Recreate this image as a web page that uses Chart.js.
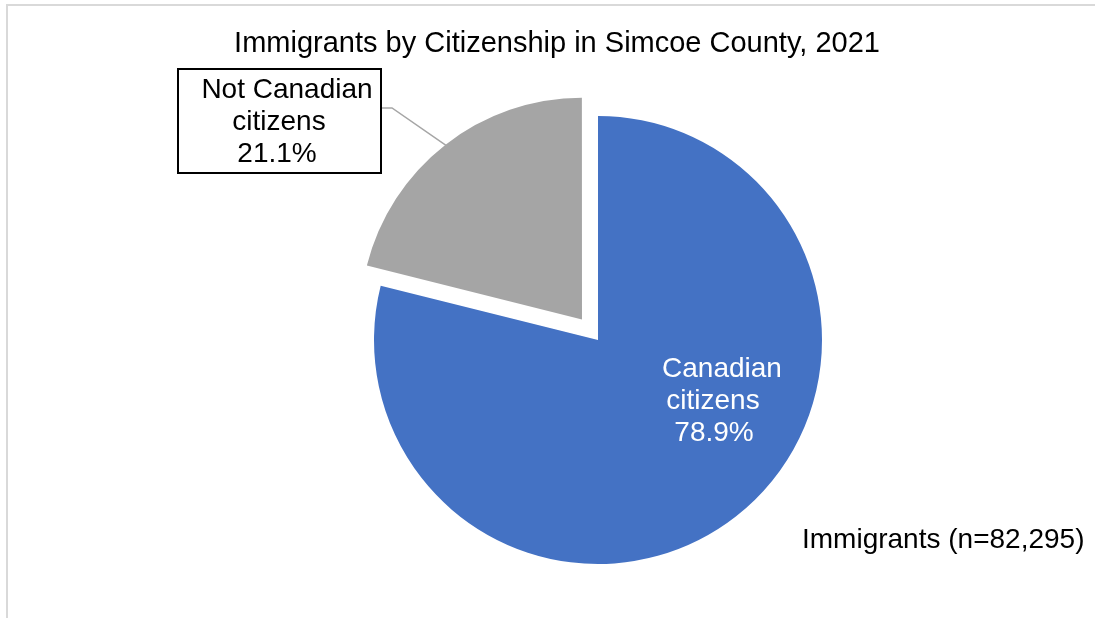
<!DOCTYPE html>
<html>
<head>
<meta charset="utf-8">
<title>Immigrants by Citizenship in Simcoe County, 2021</title>
<script src="https://cdn.jsdelivr.net/npm/chart.js@4"></script>
<style>
  html, body { margin: 0; padding: 0; background: #fff; }
  #wrap { position: relative; width: 1095px; height: 618px; }
</style>
</head>
<body>
<div id="wrap"><canvas id="citizenship-chart" width="1095" height="618"></canvas></div>
<script>
const chartTitle = 'Immigrants by Citizenship in Simcoe County, 2021';
const categories = ['Canadian citizens', 'Not Canadian citizens'];
const shares = [78.9, 21.1];
const totalLabel = 'Immigrants (n=82,295)';

const FONT = 'Liberation Sans, Arial, sans-serif';

// frame, title and slice labels drawn on top of the pie
const annotations = {
    id: 'annotations',
    afterDatasetsUpdate(chart) {
        // the pulled-out slice is drawn a little smaller than the main one
        const grey = chart.getDatasetMeta(0).data[1];
        grey.outerRadius -= 3;
    },
    afterDraw(chart) {
        const ctx = chart.ctx;
        const meta = chart.getDatasetMeta(0);
        ctx.save();

        // light outer frame (top and left edges only)
        ctx.strokeStyle = '#d9d9d9';
        ctx.lineWidth = 2;
        ctx.beginPath();
        ctx.moveTo(7, 618);
        ctx.lineTo(7, 5);
        ctx.lineTo(1095, 5);
        ctx.stroke();

        ctx.fillStyle = '#000';
        ctx.textAlign = 'center';
        ctx.textBaseline = 'alphabetic';
        ctx.font = '29px ' + FONT;
        ctx.fillText(chartTitle, 557, 52);

        // exploded slice: leader line to its mid-angle on the rim
        const grey = meta.data[1];
        const mid = (grey.startAngle + grey.endAngle) / 2;
        const shift = (grey.options.offset || 0) / 4;
        const ex = grey.x + Math.cos(mid) * (shift + grey.outerRadius);
        const ey = grey.y + Math.sin(mid) * (shift + grey.outerRadius);
        ctx.strokeStyle = '#a6a6a6';
        ctx.lineWidth = 1.5;
        ctx.beginPath();
        ctx.moveTo(381, 108);
        ctx.lineTo(392, 108);
        ctx.lineTo(ex, ey);
        ctx.stroke();

        // boxed label
        ctx.fillStyle = '#fff';
        ctx.fillRect(178, 69, 203, 104);
        ctx.strokeStyle = '#000';
        ctx.lineWidth = 2;
        ctx.strokeRect(178, 69, 203, 104);
        ctx.fillStyle = '#000';
        ctx.font = '28px ' + FONT;
        ctx.fillText('Not Canadian', 287, 98);
        ctx.fillText('citizens', 279, 130);
        ctx.fillText(shares[1].toFixed(1) + '%', 277, 162);

        // label inside the large slice
        ctx.fillStyle = '#fff';
        ctx.fillText('Canadian', 722, 377);
        ctx.fillText('citizens', 713, 409);
        ctx.fillText(shares[0].toFixed(1) + '%', 714, 441);

        ctx.fillStyle = '#000';
        ctx.textAlign = 'left';
        ctx.fillText(totalLabel, 802, 548);

        ctx.restore();
    }
};

const ctx = document.getElementById('citizenship-chart').getContext('2d');
const citizenshipChart = new Chart(ctx, {
    type: 'pie',
    data: {
        labels: categories,
        datasets: [{
            data: shares,
            backgroundColor: ['#4472C4', '#A5A5A5'],
            borderWidth: 0,
            offset: [0, 104],
            hoverOffset: 0
        }]
    },
    options: {
        responsive: false,
        animation: false,
        radius: 224,
        layout: { padding: { left: 298, right: 197, top: 100, bottom: 38 } },
        plugins: {
            legend: { display: false },
            tooltip: { enabled: false },
            title: { display: false }
        },
        events: []
    },
    plugins: [annotations]
});
</script>
</body>
</html>
